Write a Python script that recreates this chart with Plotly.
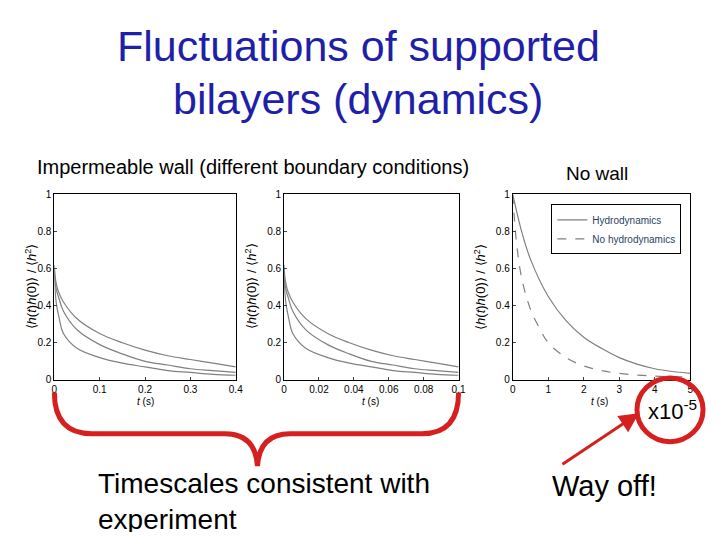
import plotly.graph_objects as go

# page has an 8px body margin, so the figure is 704x524 and reference pixels are shifted by 8
W, H = 704, 524
OFF = 8

# panel 1: impermeable wall, t in s (0-0.4)
t1 = [0, 0.002, 0.005, 0.01, 0.02, 0.05, 0.1, 0.15, 0.2, 0.25, 0.3, 0.35, 0.4]
p1_top = [0.62, 0.55, 0.51, 0.47, 0.42, 0.33, 0.25, 0.2, 0.16, 0.13, 0.11, 0.09, 0.07]
p1_mid = [0.6, 0.52, 0.48, 0.44, 0.37, 0.27, 0.19, 0.14, 0.1, 0.08, 0.06, 0.05, 0.04]
p1_bot = [0.58, 0.47, 0.4, 0.34, 0.25, 0.17, 0.12, 0.09, 0.07, 0.05, 0.04, 0.03, 0.025]

# panel 2: impermeable wall, t in s (0-0.1)
t2 = [0, 0.0005, 0.00125, 0.0025, 0.005, 0.0125, 0.025, 0.0375, 0.05, 0.0625, 0.075, 0.0875, 0.1]
p2_top = [0.62, 0.55, 0.51, 0.47, 0.42, 0.33, 0.25, 0.2, 0.16, 0.13, 0.11, 0.09, 0.07]
p2_mid = [0.6, 0.52, 0.48, 0.44, 0.37, 0.27, 0.19, 0.14, 0.1, 0.08, 0.06, 0.05, 0.04]
p2_bot = [0.58, 0.47, 0.4, 0.34, 0.25, 0.17, 0.12, 0.09, 0.07, 0.05, 0.04, 0.03, 0.025]

# panel 3: no wall (t x1e-5 s)
t3_h = [0, 0.25, 0.5, 1, 1.5, 2, 2.5, 3, 3.5, 4, 4.5, 5]
hydro = [1, 0.8, 0.65, 0.45, 0.32, 0.23, 0.17, 0.12, 0.085, 0.06, 0.045, 0.035]
t3_n = [0, 0.1, 0.25, 0.5, 0.75, 1, 1.5, 2, 2.5, 3, 4, 5]
no_hydro = [1, 0.75, 0.55, 0.38, 0.28, 0.2, 0.12, 0.075, 0.05, 0.035, 0.02, 0.015]


def fx(x):
    return (x - OFF) / W


def fy(y):
    return 1 - (y - OFF) / H


GREY = "#808080"
fig = go.Figure()
for y in (p1_top, p1_mid, p1_bot):
    fig.add_trace(go.Scatter(x=t1, y=y, mode="lines", line=dict(color=GREY, width=1.2, shape="spline"),
                             showlegend=False, xaxis="x", yaxis="y"))
for y in (p2_top, p2_mid, p2_bot):
    fig.add_trace(go.Scatter(x=t2, y=y, mode="lines", line=dict(color=GREY, width=1.2, shape="spline"),
                             showlegend=False, xaxis="x2", yaxis="y2"))
fig.add_trace(go.Scatter(x=t3_h, y=hydro, mode="lines", name="Hydrodynamics",
                         line=dict(color=GREY, width=1.2, shape="spline"), xaxis="x3", yaxis="y3"))
fig.add_trace(go.Scatter(x=t3_n, y=no_hydro, mode="lines", name="No hydrodynamics",
                         line=dict(color=GREY, width=1.2, dash="dash", shape="spline"), xaxis="x3", yaxis="y3"))

ydom = [fy(382), fy(193)]
ax = dict(showgrid=False, zeroline=False, showline=True, mirror=True, linecolor="black", linewidth=1,
          ticks="inside", ticklen=3, tickfont=dict(family="Liberation Sans", size=10, color="black"))
fig.update_layout(
    width=W, height=H, margin=dict(l=0, r=0, t=0, b=0),
    paper_bgcolor="white", plot_bgcolor="white",
    xaxis=dict(ax, domain=[fx(52), fx(236)], range=[0, 0.4], dtick=0.1, anchor="y"),
    yaxis=dict(ax, domain=ydom, range=[0, 1], dtick=0.2, anchor="x"),
    xaxis2=dict(ax, domain=[fx(285), fx(462)], range=[0, 0.1], dtick=0.02, anchor="y2"),
    yaxis2=dict(ax, domain=ydom, range=[0, 1], dtick=0.2, anchor="x2"),
    xaxis3=dict(ax, domain=[fx(517), fx(697)], range=[0, 5], dtick=1, anchor="y3"),
    yaxis3=dict(ax, domain=ydom, range=[0, 1], dtick=0.2, anchor="x3"),
    legend=dict(x=fx(688), y=fy(203), xanchor="right", yanchor="top", bgcolor="white",
                bordercolor="black", borderwidth=1, tracegroupgap=0, itemwidth=30,
                font=dict(family="Liberation Sans", size=10)),
)

ann = [
    dict(x=360, y=42, text="Fluctuations of supported", font=dict(size=43, color="#1f1fa8")),
    dict(x=360, y=96, text="bilayers (dynamics)", font=dict(size=43, color="#1f1fa8")),
    dict(x=253, y=165, text="Impermeable wall (different boundary conditions)", font=dict(size=20)),
    dict(x=602, y=172, text="No wall", font=dict(size=19)),
    dict(x=679, y=413, text="x10<sup>-5</sup>", font=dict(size=22)),
    dict(x=94, y=506, text="Timescales consistent with<br>experiment", font=dict(size=28),
         xanchor="left", align="left"),
    dict(x=610, y=490, text="Way off!", font=dict(size=29)),
]
for cx in (144, 373, 605):
    ann.append(dict(x=cx, y=404, text="<i>t</i> (s)", font=dict(size=10)))
for lx in (28, 251, 483):
    ann.append(dict(x=lx, y=287, text="⟨<i>h</i>(<i>t</i>)<i>h</i>(0)⟩ / ⟨<i>h</i><sup>2</sup>⟩",
                    textangle=-90, font=dict(size=13)))
for a in ann:
    a["x"] = fx(a["x"])
    a["y"] = fy(a["y"])
    a.setdefault("xanchor", "center")
    a.setdefault("yanchor", "middle")
    a["font"].setdefault("family", "Liberation Sans")
    a["font"].setdefault("color", "black")
    fig.add_annotation(xref="paper", yref="paper", showarrow=False, **a)

# arrow "Way off!" -> x10^-5
fig.add_annotation(xref="paper", yref="paper", x=fx(645), y=fy(416), ax=-78, ay=52,
                   showarrow=True, arrowhead=2, arrowsize=1.3, arrowwidth=3, arrowcolor="#d61f1f", text="")


def px(x, y):
    return f"{fx(x):.4f},{fy(y):.4f}"


brace = (f"M {px(52, 395)} Q {px(52, 437)} {px(90, 437)} L {px(225, 437)} "
         f"Q {px(256, 437)} {px(258, 470)} Q {px(260, 437)} {px(291, 437)} "
         f"L {px(425, 437)} Q {px(462, 437)} {px(462, 395)}")
fig.add_shape(type="path", xref="paper", yref="paper", path=brace, line=dict(color="#d61f1f", width=5))
fig.add_shape(type="circle", xref="paper", yref="paper", x0=fx(643), x1=fx(710), y0=fy(445), y1=fy(380),
              line=dict(color="#d61f1f", width=5))

fig.write_html("out.html")
